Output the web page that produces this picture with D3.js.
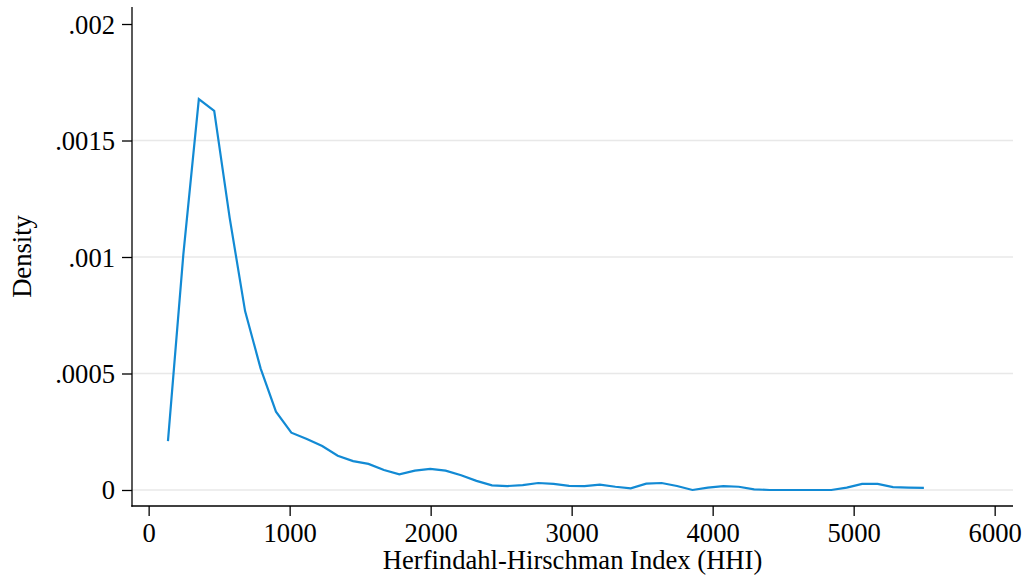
<!DOCTYPE html>
<html><head><meta charset="utf-8">
<script src="https://cdn.jsdelivr.net/npm/d3@7"></script>
<style>body{margin:0;background:#fff}svg{display:block}text{font-family:"Liberation Serif","Times New Roman",serif;fill:#000}</style>
</head><body>
<svg id="c" width="1029" height="580"></svg>
<script>
const hhi = [137,246,356,465,575,684,794,903,1012,1122,1231,1341,1450,1559,1669,1778,1888,1997,2106,2216,2325,2435,2544,2653,2763,2872,2982,3091,3200,3310,3419,3529,3638,3747,3857,3966,4076,4185,4294,4404,4513,4623,4732,4841,4951,5060,5170,5279,5388,5498];
const density = [0.00021,0.00101,0.001678,0.001627,0.001167,0.000768,0.000522,0.000336,0.000246,0.000219,0.000189,0.000147,0.000124,0.000112,0.000086,0.000067,0.000083,0.000091,0.000083,0.000063,0.000039,0.00002,0.000017,0.000021,0.00003,0.000026,0.000018,0.000017,0.000023,0.000014,0.000007,0.000027,0.00003,0.000017,0,0.00001,0.000017,0.000014,0.000003,0,0,0,0,0,0.00001,0.000026,0.000026,0.000012,0.00001,0.000009];
const xTicks = [0,1000,2000,3000,4000,5000,6000];
const yTicks = [0,0.0005,0.001,0.0015,0.002];
const yTickLabels = ["0",".0005",".001",".0015",".002"];
const xTitle = "Herfindahl-Hirschman Index (HHI)";
const yTitle = "Density";

const svg = d3.select("#c");
const L = 132, R = 1013, T = 7, B = 506;
const x = d3.scaleLinear().domain([-118, 6130]).range([L, R]);
const y = d3.scaleLinear().domain([-0.0000687, 0.002073]).range([B, T]);
const fs = 26.6, stretch = 1.04;

// gridlines
svg.append("g").selectAll("line").data(yTicks.filter(d => d < 0.002)).join("line")
  .attr("x1", L).attr("x2", R).attr("y1", d => y(d)).attr("y2", d => y(d))
  .attr("stroke", "#e8e8e8").attr("stroke-width", 1.3);

// axes
const ax = svg.append("g").attr("transform", `translate(0,${B})`)
  .call(d3.axisBottom(x).tickValues(xTicks).tickFormat(d3.format("d")).tickSize(10).tickSizeOuter(0));
const ay = svg.append("g").attr("transform", `translate(${L},0)`)
  .call(d3.axisLeft(y).tickValues(yTicks).tickFormat((d, i) => yTickLabels[i]).tickSize(10).tickSizeOuter(0));
[ax, ay].forEach(g => {
  g.select(".domain").remove();
  g.selectAll("line").attr("stroke", "#000").attr("stroke-width", 1.3);
  g.selectAll("text").style("font-size", fs + "px").attr("fill", "#000");
});
ax.selectAll("text").attr("dy", null).attr("y", 0)
  .attr("transform", `translate(0,36) scale(1,${stretch})`);
ay.selectAll("text").attr("dy", null).attr("x", 0).attr("text-anchor", "end")
  .attr("transform", `translate(-17,9) scale(1,${stretch})`);

// axis lines
svg.append("line").attr("x1", L).attr("x2", L).attr("y1", T).attr("y2", B + 0.65)
  .attr("stroke", "#000").attr("stroke-width", 1.3);
svg.append("line").attr("x1", L - 0.65).attr("x2", R).attr("y1", B).attr("y2", B)
  .attr("stroke", "#000").attr("stroke-width", 1.3);

// density line
svg.append("path").datum(hhi.map((h, i) => [h, density[i]]))
  .attr("fill", "none").attr("stroke", "#128ad4").attr("stroke-width", 2.2)
  .attr("stroke-linejoin", "miter")
  .attr("d", d3.line().x(d => x(d[0])).y(d => y(d[1])));

// titles
svg.append("text").attr("text-anchor", "middle")
  .attr("transform", `translate(${(L + R) / 2},569) scale(1,${stretch})`)
  .style("font-size", fs + "px").text(xTitle);
svg.append("text").attr("text-anchor", "middle")
  .attr("transform", `translate(31,${(T + B) / 2}) rotate(-90) scale(1,${stretch})`)
  .style("font-size", fs + "px").text(yTitle);
</script>
</body></html>
